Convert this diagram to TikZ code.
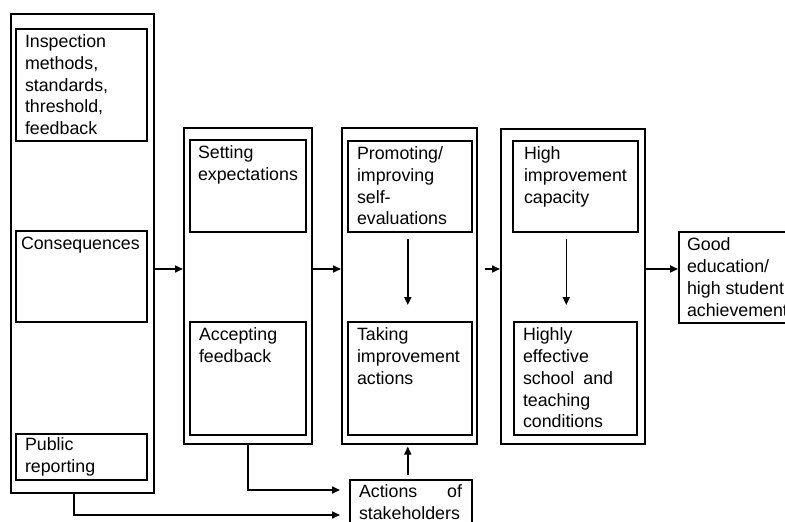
\documentclass[tikz,border=0pt]{standalone}
\usepackage{fontspec}
\setmainfont{Liberation Sans}
\usepackage{tikz}
\usetikzlibrary{arrows.meta}
\newcommand{\boxfont}{\fontsize{17.8}{21.7}\selectfont}
\tikzset{
  frame/.style={draw, line width=1.6pt, inner sep=0pt, anchor=north west},
  txt/.style={anchor=north west, align=left, inner xsep=10pt, inner ysep=7pt, outer sep=0pt, font=\boxfont},
  arr/.style={-{Triangle[length=8pt,width=7pt]}, line width=1.6pt}
}
\begin{document}
\begin{tikzpicture}[x=1pt,y=-1pt]
  \useasboundingbox (0,0) rectangle (785,522);
  \clip (0,0) rectangle (785,522);

  % Drawing column 1: inspection
  \node[frame, minimum width=143pt, minimum height=479pt] (col1) at (10,13) {};
  \node[frame, minimum width=131pt, minimum height=112pt] (insp) at (15,28) {};
  \node[frame, minimum width=131pt, minimum height=91pt] (cons) at (15,230) {};
  \node[frame, minimum width=131pt, minimum height=46pt] (pub) at (15,433) {};
  \node[txt] (insptxt) at (insp.north west) {Inspection\\methods,\\standards,\\threshold,\\feedback};
  \node[txt, inner xsep=6pt] (constxt) at (cons.north west) {Consequences};
  \node[txt, inner ysep=5pt] (pubtxt) at (pub.north west) {Public\\reporting};

  % Drawing column 2: acceptance
  \node[frame, minimum width=128pt, minimum height=316pt] (col2) at (183,127) {};
  \node[frame, minimum width=116pt, minimum height=92pt] (sett) at (189,139) {};
  \node[frame, minimum width=116pt, minimum height=113pt] (acc) at (189,321) {};
  \node[txt, inner xsep=9pt] (setttxt) at (sett.north west) {Setting\\expectations};
  \node[txt] (acctxt) at (acc.north west) {Accepting\\feedback};

  % Drawing column 3: improvement actions
  \node[frame, minimum width=135pt, minimum height=316pt] (col3) at (341,127) {};
  \node[frame, minimum width=124pt, minimum height=91pt] (promo) at (347,140) {};
  \node[frame, minimum width=124pt, minimum height=113pt] (taking) at (347,321) {};
  \node[txt] (promotxt) at (promo.north west) {Promoting/\\improving\\self-\\evaluations};
  \node[txt] (takingtxt) at (taking.north west) {Taking\\improvement\\actions};

  % Drawing column 4: capacity and conditions
  \node[frame, minimum width=144pt, minimum height=315pt] (col4) at (500,128) {};
  \node[frame, minimum width=125pt, minimum height=91pt] (capac) at (512,140) {};
  \node[frame, minimum width=123pt, minimum height=113pt] (effect) at (513,321) {};
  \node[txt, inner xsep=12pt] (capactxt) at (capac.north west) {High\\improvement\\capacity};
  \node[txt] (effecttxt) at (effect.north west) {Highly\\effective\\school \hspace{4pt}and\\teaching\\conditions};

  % Drawing outcome and stakeholders
  \node[frame, minimum width=122pt, minimum height=91pt] (good) at (678,231) {};
  \node[txt, inner xsep=9pt] (goodtxt) at (good.north west) {Good\\education/\\high student\\achievement};
  \node[frame, minimum width=122pt, minimum height=56pt] (actions) at (349,479) {};
  \node[txt, inner ysep=6pt] (actionstxt) at (actions.north west) {\makebox[103pt][s]{Actions\hfill of}\\stakeholders};

  % Drawing arrows
  \coordinate (lvl) at (0,269);
  \coordinate (accturn) at (0,490);
  \coordinate (pubdrop) at (74,515);
  \draw[arr] (col1.east |- lvl) -- (col2.west |- lvl);
  \draw[arr] (col2.east |- lvl) -- (col3.west |- lvl);
  \draw[arr, shorten <=7pt] (col3.east |- lvl) -- (col4.west |- lvl);
  \draw[arr] (col4.east |- lvl) -- (good.west |- lvl);
  \draw[arr, shorten <=6pt, shorten >=16pt] ([xshift=-2pt]promo.south) -- ([xshift=-2pt]taking.north);
  \draw[arr, shorten <=6pt, shorten >=16pt] ([xshift=-9pt]capac.south) -- ([xshift=-9pt]effect.north);
  \draw[arr, shorten <=4pt, shorten >=2pt] ([xshift=-3pt]actions.north) -- ([xshift=-3pt]actions.north |- col3.south);
  \draw[arr, shorten >=9pt] (col2.south) |- (actions.west |- accturn);
  \draw[arr, shorten >=9pt] (col1.south -| pubdrop) |- (actions.west |- pubdrop);
\end{tikzpicture}
\end{document}
